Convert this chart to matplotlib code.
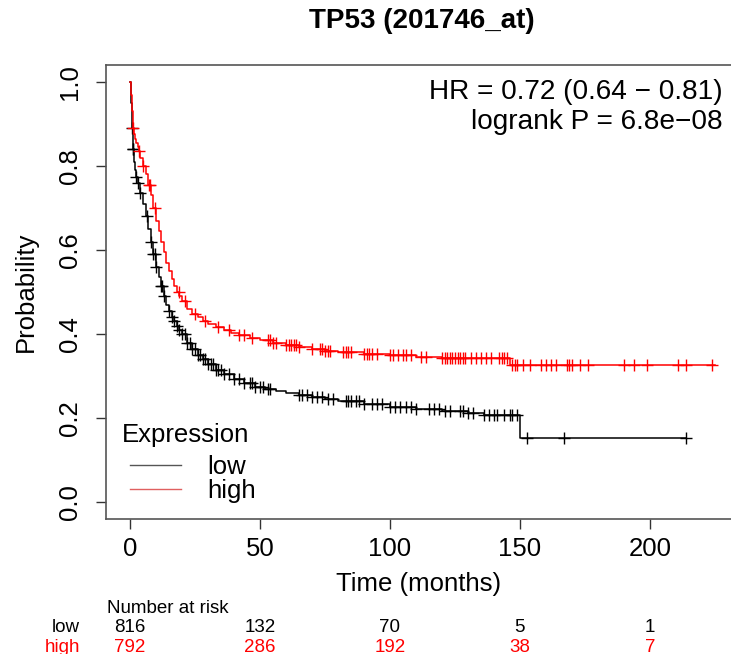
import matplotlib.pyplot as plt
import numpy as np
from matplotlib.lines import Line2D
from matplotlib.transforms import blended_transform_factory

plt.rcParams['font.family'] = ['Liberation Sans', 'DejaVu Sans']

# Kaplan-Meier steps (months, survival)
times_low = [0, 0.3, 0.6, 1.0, 1.5, 2, 2.5, 3, 4, 5, 6, 7, 8, 9, 10, 11, 12, 13, 14, 15, 16, 17, 18,
             19, 20, 22, 24, 26, 28, 30, 33, 36, 40, 44, 48, 52, 56, 60, 65, 70, 75, 80, 90, 100,
             110, 120, 130, 136, 150, 214]
surv_low = [1.0, 0.95, 0.89, 0.84, 0.81, 0.79, 0.775, 0.76, 0.735, 0.71, 0.68, 0.65, 0.62, 0.59,
            0.56, 0.535, 0.515, 0.49, 0.47, 0.455, 0.44, 0.43, 0.42, 0.41, 0.40, 0.38, 0.365, 0.35,
            0.34, 0.33, 0.315, 0.305, 0.293, 0.283, 0.275, 0.27, 0.265, 0.26, 0.255, 0.25, 0.245,
            0.24, 0.233, 0.227, 0.222, 0.217, 0.213, 0.208, 0.153, 0.153]

times_high = [0, 0.3, 0.6, 1.0, 1.5, 2.0, 2.5, 3.0, 3.5, 4, 5, 6, 7, 8, 9, 10, 11, 12, 13, 14, 15,
              16, 17, 18, 19, 20, 22, 24, 26, 28, 30, 33, 36, 39, 42, 46, 50, 55, 60, 65, 70, 75,
              80, 90, 100, 110, 120, 133, 146, 225]
surv_high = [1.0, 0.97, 0.93, 0.89, 0.875, 0.865, 0.855, 0.845, 0.835, 0.82, 0.80, 0.78, 0.755,
             0.73, 0.70, 0.67, 0.645, 0.62, 0.595, 0.57, 0.55, 0.53, 0.515, 0.50, 0.49, 0.478,
             0.46, 0.448, 0.44, 0.432, 0.425, 0.418, 0.41, 0.403, 0.397, 0.39, 0.385, 0.379,
             0.375, 0.37, 0.364, 0.36, 0.357, 0.353, 0.35, 0.346, 0.344, 0.342, 0.327, 0.327]

# censored observations (months)
censor_low = [0.8, 1.0, 1.2, 2.5, 3.0, 4.0, 6.5, 8.0, 9.0, 9.5, 10.0, 12.0, 12.5, 13.0, 15, 16, 17,
              18, 19, 20, 21, 22, 23, 24, 25, 26, 27, 28, 29, 30, 31, 32, 33, 34, 35, 36, 38, 40,
              42, 44, 46, 47, 48, 50, 51, 53, 54, 65, 66, 68, 70, 72, 74, 76, 78, 83, 84, 85, 87,
              88, 90, 93, 95, 97, 100, 102, 104, 106, 108, 110, 115, 117, 119, 121, 123, 127, 128,
              130, 132, 136, 138, 140, 141, 144, 146, 147, 149, 152.7, 167, 214]
censor_high = [1.3, 3.6, 5.0, 7.3, 7.8, 9.7, 18.7, 21, 25, 29, 34, 38, 42, 44, 47, 53, 54, 55, 56,
               60, 61, 62, 63, 64, 65, 70, 73, 74, 75, 76, 77, 82, 83, 84, 85, 90, 91, 92, 93, 95,
               100, 101, 103, 105, 106, 108, 112, 114, 120, 121, 122, 123, 124, 125, 126, 127,
               128, 129, 131, 133, 135, 137, 139, 142, 143, 144, 145, 147, 148, 149, 151, 154,
               158, 160, 162, 164, 168, 169, 170, 173, 176, 190, 194, 199, 211, 214, 224]

risk_times = [0, 50, 100, 150, 200]
risk_low = [816, 132, 70, 5, 1]
risk_high = [792, 286, 192, 38, 7]

title = "TP53 (201746_at)"
hr_text = "HR = 0.72 (0.64 \u2212 0.81)"
p_text = "logrank P = 6.8e\u221208"


def step_value(times, surv, t):
    idx = np.searchsorted(times, t, side='right') - 1
    return np.array(surv)[idx]


fig = plt.figure(figsize=(7.31, 6.54), dpi=100)
ax = fig.add_axes([0.145, 0.2064, 0.855, 0.694])

for times, surv, cens, col in [(times_low, surv_low, censor_low, 'black'),
                               (times_high, surv_high, censor_high, 'red')]:
    ax.plot(times, surv, drawstyle='steps-post', color=col, lw=1.1)
    ax.plot(cens, step_value(times, surv, cens), ls='none', marker='+',
            ms=8, mew=1.0, color=col)

ax.set_xlim(-9.23, 231.2)
ax.set_ylim(-0.04, 1.04)
ax.set_xticks([0, 50, 100, 150, 200])
ax.set_yticks([0, 0.2, 0.4, 0.6, 0.8, 1.0])
ax.set_yticklabels(["0.0", "0.2", "0.4", "0.6", "0.8", "1.0"], rotation=90, va='center')
ax.tick_params(labelsize=18.5, length=7, width=1, color='#333333')
ax.tick_params(axis='x', pad=6)
ax.tick_params(axis='y', pad=10)
ax.spines['right'].set_visible(False)
for s in ['left', 'top', 'bottom']:
    ax.spines[s].set_color('#555555')
    ax.spines[s].set_linewidth(1.2)

ax.set_xlabel("Time (months)", fontsize=18.5, labelpad=8)
ax.set_ylabel("Probability", fontsize=18.5, labelpad=15)

# legend: title as plain text, entries through legend
ax.text(0.026, 0.185, "Expression", transform=ax.transAxes, ha='left', va='center', fontsize=18.5)
handles = [Line2D([], [], color='#555555', lw=1), Line2D([], [], color='#e06060', lw=1)]
ax.legend(handles, ['low', 'high'], loc='lower left', frameon=False, fontsize=18.5,
          handlelength=2.0, handletextpad=1.0, labelspacing=0.0, borderaxespad=0.0,
          borderpad=0.0, bbox_to_anchor=(0.0385, 0.036))

fig.text(0.577, 0.968, title, ha='center', va='center', fontsize=20, fontweight='bold')
fig.text(0.988, 0.859, hr_text, ha='right', va='center', fontsize=20.2)
fig.text(0.988, 0.8135, p_text, ha='right', va='center', fontsize=20.2)

tr = blended_transform_factory(ax.transData, fig.transFigure)
fig.text(-8.8, 0.0703, "Number at risk", transform=tr, ha='left', va='center', fontsize=13.5)
fig.text(-19.2, 0.0398, "low", transform=tr, ha='right', va='center', fontsize=13.5)
fig.text(-19.2, 0.0107, "high", transform=tr, ha='right', va='center', fontsize=13.5, color='red')
for t, nl, nh in zip(risk_times, risk_low, risk_high):
    fig.text(t, 0.0398, str(nl), transform=tr, ha='center', va='center', fontsize=13.5)
    fig.text(t, 0.0107, str(nh), transform=tr, ha='center', va='center', fontsize=13.5,
             color='red')

fig.savefig('out.png', dpi=100)
